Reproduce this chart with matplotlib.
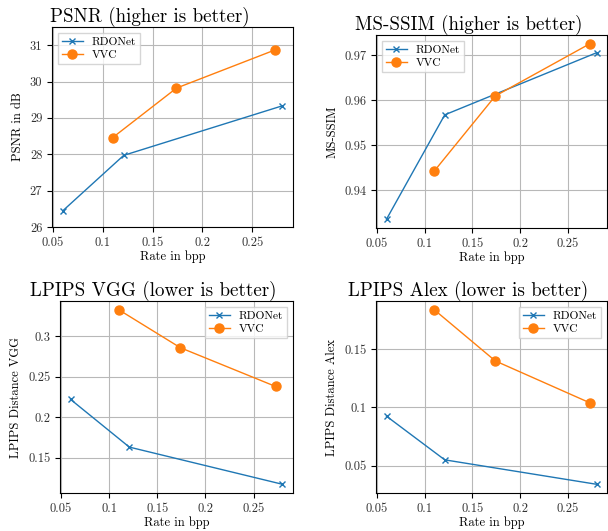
import matplotlib
matplotlib.use("Agg")
import matplotlib.pyplot as plt
from matplotlib.ticker import FormatStrFormatter

plt.rcParams['font.family'] = 'serif'
plt.rcParams['font.serif'] = ['cmr10', 'DejaVu Serif']
plt.rcParams['axes.formatter.use_mathtext'] = True
plt.rcParams['mathtext.fontset'] = 'cm'

# rates in bpp
rdonet_rate = [0.060, 0.121, 0.280]
vvc_rate = [0.110, 0.174, 0.273]

# metrics
rdonet_psnr = [26.45, 27.97, 29.33]
vvc_psnr = [28.46, 29.82, 30.87]
rdonet_msssim = [0.9335, 0.9567, 0.9705]
vvc_msssim = [0.9442, 0.9609, 0.9725]
rdonet_vgg = [0.222, 0.163, 0.117]
vvc_vgg = [0.333, 0.286, 0.238]
rdonet_alex = [0.0925, 0.055, 0.034]
vvc_alex = [0.184, 0.140, 0.104]

titles = ['PSNR (higher is better)', 'MS-SSIM (higher is better)',
          'LPIPS VGG (lower is better)', 'LPIPS Alex (lower is better)']
ylabels = ['PSNR in dB', 'MS-SSIM', 'LPIPS Distance VGG', 'LPIPS Distance Alex']
x_ticks = [0.05, 0.1, 0.15, 0.2, 0.25]

W, H = 608, 531
fig = plt.figure(figsize=(W / 100, H / 100), dpi=100)

# axes boxes in pixels: left, top, right, bottom
boxes = [
    (52, 27, 293, 227),
    (376, 35, 607, 228),
    (60, 301, 293, 493),
    (376, 301, 607, 493),
]
series = [
    (rdonet_psnr, vvc_psnr),
    (rdonet_msssim, vvc_msssim),
    (rdonet_vgg, vvc_vgg),
    (rdonet_alex, vvc_alex),
]
legend_loc = ['upper left', 'upper left', 'upper right', 'upper right']

for i in range(4):
    l, t, r_, b = boxes[i]
    ax = fig.add_axes([l / W, 1 - b / H, (r_ - l) / W, (b - t) / H])
    r, v = series[i]
    ax.plot(rdonet_rate, r, color='#1f77b4', marker='x', markersize=5,
            linewidth=1.0, label='RDONet')
    ax.plot(vvc_rate, v, color='#ff7f0e', marker='o', markersize=6.5,
            linewidth=1.0, label='VVC')
    # titles sit a bit left of the axes centre in the original
    ax.set_title(titles[i], fontsize=13.7, pad=4, x=0.5 - 23 / (r_ - l))
    ax.set_xlabel('Rate in bpp', fontsize=9, labelpad=1)
    ax.set_ylabel(ylabels[i], fontsize=9)
    ax.set_xticks(x_ticks)
    ax.xaxis.set_major_formatter(FormatStrFormatter('%g'))
    ax.yaxis.set_major_formatter(FormatStrFormatter('%g'))
    ax.tick_params(labelsize=9, length=3.5, width=0.8, labelcolor='#333333')
    ax.grid(True, color='#b8b8b8', linewidth=0.8)
    ax.set_axisbelow(True)
    ax.legend(loc=legend_loc[i], fontsize=8.3, fancybox=False,
              edgecolor='#cccccc', handlelength=1.8, borderpad=0.35,
              labelspacing=0.3)
    if i == 0:
        ax.set_ylim(26, 31.5)
        ax.set_yticks([26, 27, 28, 29, 30, 31])
    if i == 1:
        ax.set_yticks([0.94, 0.95, 0.96, 0.97])
    if i == 2:
        ax.set_yticks([0.15, 0.2, 0.25, 0.3])
    if i == 3:
        ax.set_yticks([0.05, 0.1, 0.15])

fig.savefig('out.png', dpi=100)
